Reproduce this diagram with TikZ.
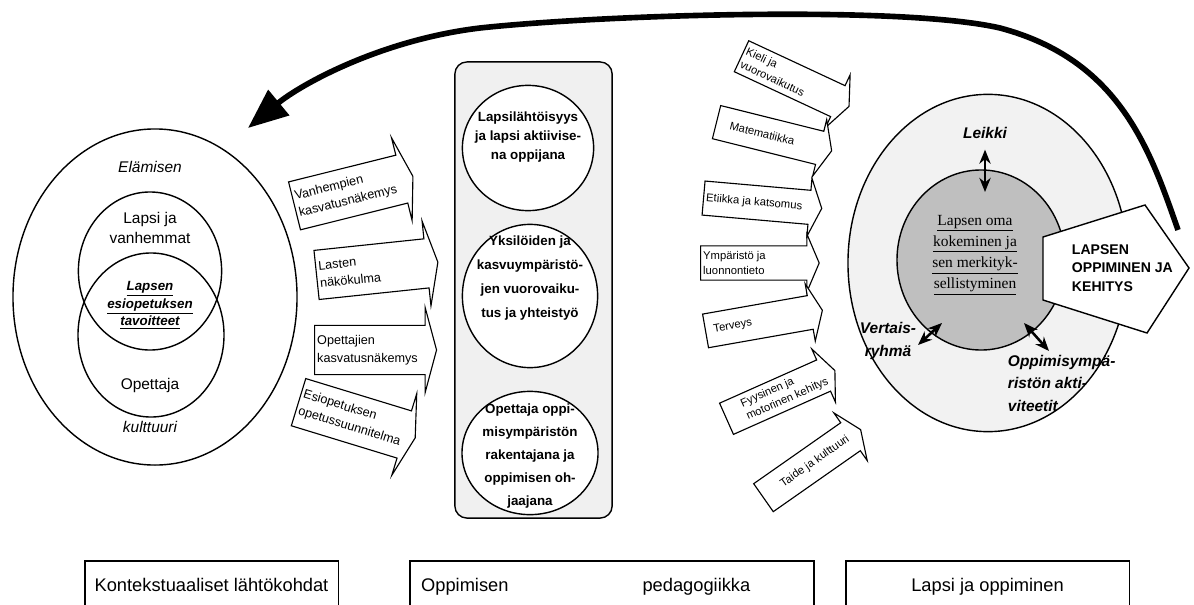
\documentclass[tikz,border=0pt]{standalone}
\usepackage{fontspec}
\setmainfont{Liberation Sans}
\newfontfamily\oldface{Liberation Serif}
\usetikzlibrary{shapes.geometric,shapes.arrows,arrows.meta}

\newcommand\lefttag[1]{\parbox[c][1.1cm][c]{2.75cm}{\raggedright #1}}
\newcommand\righttag[1]{\parbox[c][0.72cm][c]{2.65cm}{\raggedright #1}}

\begin{document}
\begin{tikzpicture}[x=0.025cm, y=-0.025cm,
    ring/.style={draw, ellipse, line width=1pt, inner sep=0pt},
    txt/.style={align=center, font=\fontsize{11}{14}\selectfont},
    mid/.style={align=center, font=\fontsize{9.5}{#1}\selectfont\bfseries},
    larr/.style={single arrow, draw, fill=white, line width=0.8pt, inner sep=1.5pt,
        single arrow head extend=0.45cm, single arrow tip angle=150, anchor=tail,
        font=\fontsize{9}{12.5}\selectfont},
    rarr/.style={single arrow, draw, fill=white, line width=0.8pt, inner sep=1.5pt,
        single arrow head extend=0.3cm, single arrow tip angle=134, anchor=tail,
        font=\fontsize{8}{10}\selectfont},
    tag/.style={align=center, font=\fontsize{11}{16}\selectfont\bfseries\itshape},
    dbl/.style={{Stealth[length=10pt,width=8pt]}-{Stealth[length=10pt,width=8pt]}, line width=1.8pt},
    foot/.style={draw, line width=0.9pt, anchor=base, inner xsep=0pt, inner ysep=0.1cm,
        text height=0.65cm, text depth=1cm, font=\fontsize{13}{15}\selectfont},
    back/.style={line width=4pt, -{Triangle[length=1cm, width=0.8cm]}}]

\useasboundingbox (0,0) rectangle (1194,604);
\clip (0,0) rectangle (1194,604);

% kontekstuaaliset lahtokohdat
\node[ring, minimum width=7.1cm, minimum height=8.4cm] (life) at (155,297) {};
\node[ring, minimum width=3.58cm, minimum height=3.95cm] (home) at (150,271) {};
\node[ring, minimum width=3.65cm, minimum height=4.1cm] (school) at (151,335) {};
\node[txt, font=\fontsize{11}{14}\selectfont\itshape] (lifeA) at (150,167) {Elämisen};
\node[txt] (homeT) at (150,228) {Lapsi ja\\vanhemmat};
\node[txt, font=\fontsize{9.5}{12.5}\selectfont\bfseries\itshape] (goals) at (150,305)
    {\underline{Lapsen}\\\underline{esiopetuksen}\\\underline{tavoitteet}};
\node[txt] (schoolT) at (150,385) {Opettaja};
\node[txt, font=\fontsize{11}{14}\selectfont\itshape] (lifeB) at (150,427) {kulttuuri};

\node[larr, rotate=14] (parents) at (294,206) {\lefttag{Vanhempien\\kasvatusnäkemys}};
\node[larr, rotate=6] (kids) at (316,275) {\lefttag{Lasten\\näkökulma}};
\node[larr] (teachers) at (314,350) {\lefttag{Opettajien\\kasvatusnäkemys}};
\node[larr, rotate=-17] (plan) at (298,402) {\lefttag{Esiopetuksen\\opetussuunnitelma}};

% pedagogiikka
\node[draw, rounded corners=0.3cm, fill=gray!12, line width=1pt,
    minimum width=3.93cm, minimum height=11.4cm] (pedabox) at (533.5,290) {};
\node[ring, fill=white, minimum width=3.28cm, minimum height=3.13cm] (active) at (528,148) {};
\node[mid=13.5pt] (activeT) at (528,137) {Lapsilähtöisyys\\ja lapsi aktiivise-\\na oppijana};
\node[ring, fill=white, minimum width=3.38cm, minimum height=3.58cm] (joint) at (530,296) {};
\node[mid=17pt] (jointT) at (530,278) {Yksilöiden ja\\kasvuympäristö-\\jen vuorovaiku-\\tus ja yhteistyö};
\node[ring, fill=white, minimum width=3.4cm, minimum height=3.08cm] (guide) at (530,453) {};
\node[mid=16.5pt] (guideT) at (530,456) {Opettaja oppi-\\misympäristön\\rakentajana ja\\oppimisen oh-\\jaajana};

% oppiaineet
\node[rarr, rotate=-25] (lang) at (741,56) {\righttag{Kieli ja\\vuorovaikutus}};
\node[rarr, rotate=-14] (math) at (716,122) {\righttag{\hspace*{8pt}Matematiikka}};
\node[rarr, rotate=-5] (ethic) at (703,198) {\righttag{Etiikka ja katsomus}};
\node[rarr] (nature) at (700,263) {\righttag{Ympäristö ja\\luonnontieto}};
\node[rarr, rotate=10] (health) at (705,331) {\righttag{\hspace*{4pt}Terveys}};
\node[rarr, rotate=24] (motor) at (726,419) {\righttag{\hspace*{12pt}Fyysinen ja\\\hspace*{12pt}motorinen kehitys}};
\node[rarr, rotate=35] (art) at (763,498) {\righttag{\hspace*{14pt}Taide ja kulttuuri}};

% lapsi ja oppiminen
\node[ring, fill=gray!10, minimum width=7cm, minimum height=8.43cm] (world) at (988,263) {};
\node[ring, fill=gray!50, minimum width=4.2cm, minimum height=4.5cm] (core) at (981,260) {};
\node[align=center, font=\oldface\fontsize{11}{15}\selectfont] (coreT) at (975,255)
    {\underline{Lapsen oma}\\\underline{kokeminen ja}\\\underline{sen merkityk-}\\\underline{sellistyminen}};
\draw[fill=white, line width=1pt] (1043,237) -- (1145,205) -- (1189,268) -- (1147,333) -- (1043,300) -- cycle;
\node[align=left, anchor=west, font=\fontsize{10}{13}\selectfont\bfseries] (growth) at (1067,268)
    {LAPSEN\\OPPIMINEN JA\\KEHITYS};

\node[tag] (play) at (985,133) {Leikki};
\node[tag] (peers) at (888,341) {Vertais-\\ryhmä};
\node[tag, align=left, anchor=west] (acts) at (1003,383) {Oppimisympä-\\ristön akti-\\viteetit};
\coordinate (playIn) at (985,192);
\coordinate (peersOut) at (918,345);
\coordinate (peersIn) at (942,323);
\coordinate (actsIn) at (1024,323);
\coordinate (actsOut) at (1049,351);
\draw[dbl, shorten <=0.15cm] (play.south) -- (playIn);
\draw[dbl] (peersOut) -- (peersIn);
\draw[dbl] (actsIn) -- (actsOut);

% palaute
\coordinate (fbStart) at (1178,230);
\coordinate (fbEnd) at (248,128);
\draw[back] (fbStart) .. controls (1150,150) and (1120,60) .. (1000,28)
    .. controls (900,5) and (600,15) .. (480,28)
    .. controls (380,40) and (300,85) .. (fbEnd);

% otsikot
\node[foot, minimum width=6.33cm] (ctx) at (211.5,591) {Kontekstuaaliset lähtökohdat};
\node[foot, minimum width=10.1cm] (ped) at (612,591)
    {\makebox[10.1cm][l]{\hspace*{0.28cm}Oppimisen\hspace{3.35cm}pedagogiikka}};
\node[foot, minimum width=7.08cm] (kid) at (987.5,591) {Lapsi ja oppiminen};
\end{tikzpicture}
\end{document}
